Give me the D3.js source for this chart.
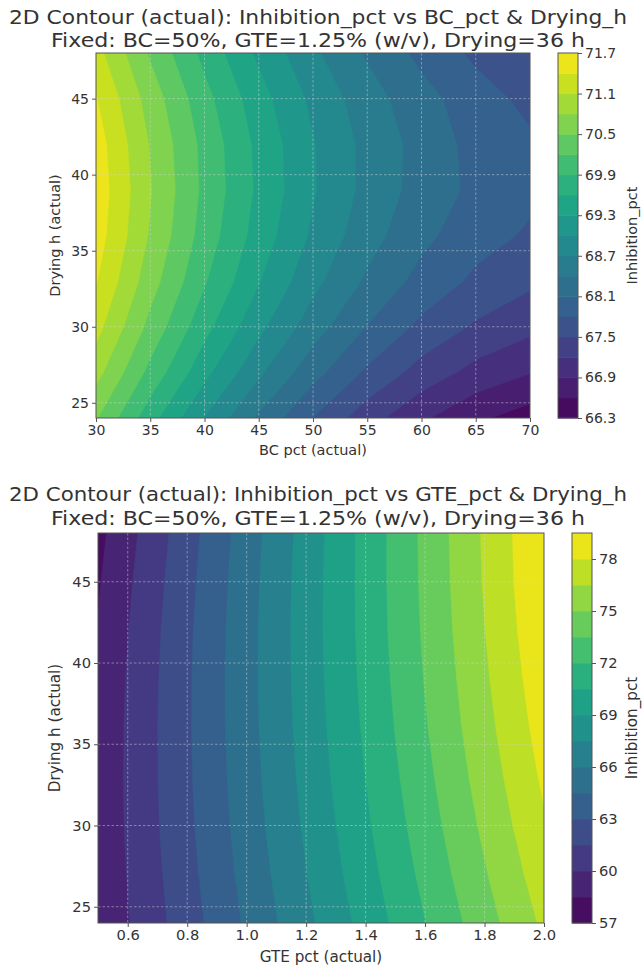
<!DOCTYPE html>
<meta charset="utf-8">
<script src="https://d3js.org/d3.v7.min.js"></script>
<style>
  body { margin: 0; background: #fff; }
  text { font-family: "DejaVu Sans", sans-serif; fill: #333; }
</style>
<div id="chart"></div>
<script>

// grid of the response surface (columns = factor on x, rows = drying time, 24 h first)
var bcPct   = [30, 35, 40, 45, 50, 55, 60, 65, 70];
var gtePct  = [0.5, 0.75, 1.0, 1.25, 1.5, 1.75, 2.0];
var dryingH = [24, 27, 30, 33, 36, 39, 42, 45, 48];

// Inhibition_pct (BC_pct x Drying_h)
var inhibBC = [
  [70.53, 69.72, 68.99, 68.35, 67.80, 67.33, 66.95, 66.66, 66.46],
  [70.91, 70.11, 69.39, 68.76, 68.21, 67.75, 67.38, 67.10, 66.91],
  [71.21, 70.41, 69.70, 69.08, 68.54, 68.09, 67.73, 67.46, 67.28],
  [71.42, 70.63, 69.93, 69.32, 68.79, 68.35, 68.00, 67.74, 67.56],
  [71.55, 70.77, 70.07, 69.47, 68.95, 68.52, 68.18, 67.92, 67.76],
  [71.59, 70.82, 70.13, 69.54, 69.03, 68.61, 68.28, 68.03, 67.87],
  [71.55, 70.78, 70.11, 69.52, 69.02, 68.61, 68.29, 68.00, 67.85],
  [71.42, 70.67, 70.00, 69.42, 68.93, 68.53, 68.21, 67.93, 67.72],
  [71.21, 70.46, 69.81, 69.24, 68.76, 68.36, 68.02, 67.74, 67.55]
];

// Inhibition_pct (GTE_pct x Drying_h)
var inhibGTE = [
  [58.71, 61.72, 64.73, 67.74, 70.76, 73.77, 76.78],
  [58.83, 61.91, 65.00, 68.08, 71.17, 74.25, 77.33],
  [58.90, 62.05, 65.21, 68.36, 71.52, 74.67, 77.83],
  [58.91, 62.13, 65.36, 68.58, 71.81, 75.04, 78.26],
  [58.86, 62.16, 65.45, 68.75, 72.05, 75.35, 78.64],
  [58.75, 62.12, 65.49, 68.86, 72.23, 75.59, 78.96],
  [58.59, 62.03, 65.47, 68.91, 72.35, 75.79, 79.23],
  [58.37, 61.88, 65.39, 68.90, 72.41, 75.92, 79.43],
  [58.09, 61.67, 65.25, 68.83, 72.42, 76.00, 79.48]
];

// contour levels
var levelsBC  = [66.3, 66.6, 66.9, 67.2, 67.5, 67.8, 68.1, 68.4, 68.7, 69.0,
                 69.3, 69.6, 69.9, 70.2, 70.5, 70.8, 71.1, 71.4, 71.7];
var levelsGTE = [57, 58.5, 60, 61.5, 63, 64.5, 66, 67.5, 69, 70.5,
                 72, 73.5, 75, 76.5, 78, 79.5];

// tick labels
var bcTicks    = [30, 35, 40, 45, 50, 55, 60, 65, 70];
var gteTicks   = [0.6, 0.8, 1.0, 1.2, 1.4, 1.6, 1.8, 2.0];
var dryTicks   = [25, 30, 35, 40, 45];
var cbTicksBC  = [66.3, 66.9, 67.5, 68.1, 68.7, 69.3, 69.9, 70.5, 71.1, 71.7];
var cbTicksGTE = [57, 60, 63, 66, 69, 72, 75, 78];

var subtitle = "Fixed: BC=50%, GTE=1.25% (w/v), Drying=36 h";

var svg = d3.select("#chart").append("svg")
  .attr("width", 643)
  .attr("height", 965);

var panels = [
  {
    xs: bcPct, z: inhibBC, levels: levelsBC, xTicks: bcTicks, xFmt: d3.format("d"),
    cbTicks: cbTicksBC, cbFmt: d3.format(".1f"),
    title: "2D Contour (actual): Inhibition_pct vs BC_pct & Drying_h",
    xLabel: "BC pct (actual)",
    left: 96, right: 530, top: 53, bottom: 418, cbLeft: 558, fs: 1.0,
    titleY: 24, subY: 47, titleX: 318
  },
  {
    xs: gtePct, z: inhibGTE, levels: levelsGTE, xTicks: gteTicks, xFmt: d3.format(".1f"),
    cbTicks: cbTicksGTE, cbFmt: d3.format("d"),
    title: "2D Contour (actual): Inhibition_pct vs GTE_pct & Drying_h",
    xLabel: "GTE pct (actual)",
    left: 98, right: 544, top: 533, bottom: 923, cbLeft: 572, fs: 1.05,
    titleY: 501, subY: 525, titleX: 318
  }
];

panels.forEach(function(p, k) {
  var g = svg.append("g");
  var nx = p.xs.length, ny = dryingH.length;
  var nb = p.levels.length - 1;

  var x = d3.scaleLinear().domain([p.xs[0], p.xs[nx - 1]]).range([p.left, p.right]);
  var y = d3.scaleLinear().domain([24, 48]).range([p.bottom, p.top]);

  // grid coordinates of d3.contours -> pixels (sample i sits at i + 0.5)
  var gx = d3.scaleLinear().domain([0.5, nx - 0.5]).range([x(p.xs[0]), x(p.xs[nx - 1])]);
  var gy = d3.scaleLinear().domain([0.5, ny - 0.5]).range([y(dryingH[0]), y(dryingH[ny - 1])]);
  var path = d3.geoPath(d3.geoTransform({
    point: function(a, b) { this.stream.point(gx(a), gy(b)); }
  }));

  var flat = [];
  p.z.forEach(function(row) { row.forEach(function(v) { flat.push(v); }); });

  var bands = d3.contours()
    .size([nx, ny])
    .thresholds(p.levels.slice(0, nb))(flat);

  var color = function(i) { return d3.interpolateViridis((i + 0.5) / nb); };

  g.append("clipPath").attr("id", "clip" + k)
    .append("rect")
    .attr("x", p.left).attr("y", p.top)
    .attr("width", p.right - p.left).attr("height", p.bottom - p.top);

  g.append("g").attr("clip-path", "url(#clip" + k + ")")
    .selectAll("path")
    .data(bands)
    .join("path")
    .attr("d", path)
    .attr("fill", function(d, i) { return color(i); })
    .attr("stroke", function(d, i) { return color(i); })
    .attr("stroke-width", 0.4);

  // dashed grid
  var grid = g.append("g")
    .attr("stroke", "#d8d8d8")
    .attr("stroke-opacity", 0.6)
    .attr("stroke-width", 0.8)
    .attr("stroke-dasharray", "2.5,2");
  grid.selectAll(".gx").data(p.xTicks.filter(function(t) { return x(t) > p.left + 1 && x(t) < p.right - 1; }))
    .join("line").attr("class", "gx")
    .attr("x1", function(d) { return x(d); }).attr("x2", function(d) { return x(d); })
    .attr("y1", p.top).attr("y2", p.bottom);
  grid.selectAll(".gy").data(dryTicks)
    .join("line").attr("class", "gy")
    .attr("y1", function(d) { return y(d); }).attr("y2", function(d) { return y(d); })
    .attr("x1", p.left).attr("x2", p.right);

  // axes
  var fsTick = 14 * p.fs, fsLab = 14.5 * p.fs;
  var xa = g.append("g").attr("transform", "translate(0," + p.bottom + ")")
    .call(d3.axisBottom(x).tickValues(p.xTicks).tickFormat(p.xFmt).tickSize(4).tickPadding(3));
  var ya = g.append("g").attr("transform", "translate(" + p.left + ",0)")
    .call(d3.axisLeft(y).tickValues(dryTicks).tickSize(4).tickPadding(3));
  [xa, ya].forEach(function(a) {
    a.select(".domain").remove();
    a.selectAll("line").attr("stroke", "#555");
    a.selectAll("text").attr("font-size", fsTick).attr("fill", "#333")
      .style("font-family", "DejaVu Sans");
  });

  g.append("rect")
    .attr("x", p.left).attr("y", p.top)
    .attr("width", p.right - p.left).attr("height", p.bottom - p.top)
    .attr("fill", "none").attr("stroke", "#555").attr("stroke-width", 1);

  g.append("text")
    .attr("x", (p.left + p.right) / 2).attr("y", p.bottom + 37 * p.fs)
    .attr("text-anchor", "middle").attr("font-size", fsLab)
    .text(p.xLabel);

  g.append("text")
    .attr("transform", "translate(55," + (p.top + p.bottom) / 2 + ") rotate(-90)")
    .attr("text-anchor", "middle").attr("dy", "0.35em").attr("font-size", fsLab)
    .text("Drying h (actual)");

  // titles
  g.append("text")
    .attr("x", p.titleX).attr("y", p.titleY)
    .attr("text-anchor", "middle").attr("font-size", 19.5)
    .attr("textLength", 618).attr("lengthAdjust", "spacingAndGlyphs")
    .text(p.title);
  g.append("text")
    .attr("x", p.titleX).attr("y", p.subY)
    .attr("text-anchor", "middle").attr("font-size", 19.5)
    .attr("textLength", 534).attr("lengthAdjust", "spacingAndGlyphs")
    .text(subtitle);

  // colorbar
  var cbW = 20;
  var cb = d3.scaleLinear().domain([p.levels[0], p.levels[nb]]).range([p.bottom, p.top]);
  g.append("g").selectAll("rect")
    .data(d3.range(nb))
    .join("rect")
    .attr("x", p.cbLeft)
    .attr("width", cbW)
    .attr("y", function(i) { return cb(p.levels[i + 1]); })
    .attr("height", function(i) { return cb(p.levels[i]) - cb(p.levels[i + 1]) + 0.5; })
    .attr("fill", function(i) { return color(i); });
  g.append("rect")
    .attr("x", p.cbLeft).attr("y", p.top)
    .attr("width", cbW).attr("height", p.bottom - p.top)
    .attr("fill", "none").attr("stroke", "#555").attr("stroke-width", 1);
  var ca = g.append("g").attr("transform", "translate(" + (p.cbLeft + cbW) + ",0)")
    .call(d3.axisRight(cb).tickValues(p.cbTicks).tickFormat(p.cbFmt).tickSize(4).tickPadding(3));
  ca.select(".domain").remove();
  ca.selectAll("line").attr("stroke", "#555");
  ca.selectAll("text").attr("font-size", fsTick).attr("fill", "#333")
    .style("font-family", "DejaVu Sans");

  g.append("text")
    .attr("transform", "translate(632," + (p.top + p.bottom) / 2 + ") rotate(-90)")
    .attr("text-anchor", "middle").attr("dy", "0.35em").attr("font-size", fsLab)
    .text("Inhibition_pct");
});

</script>
